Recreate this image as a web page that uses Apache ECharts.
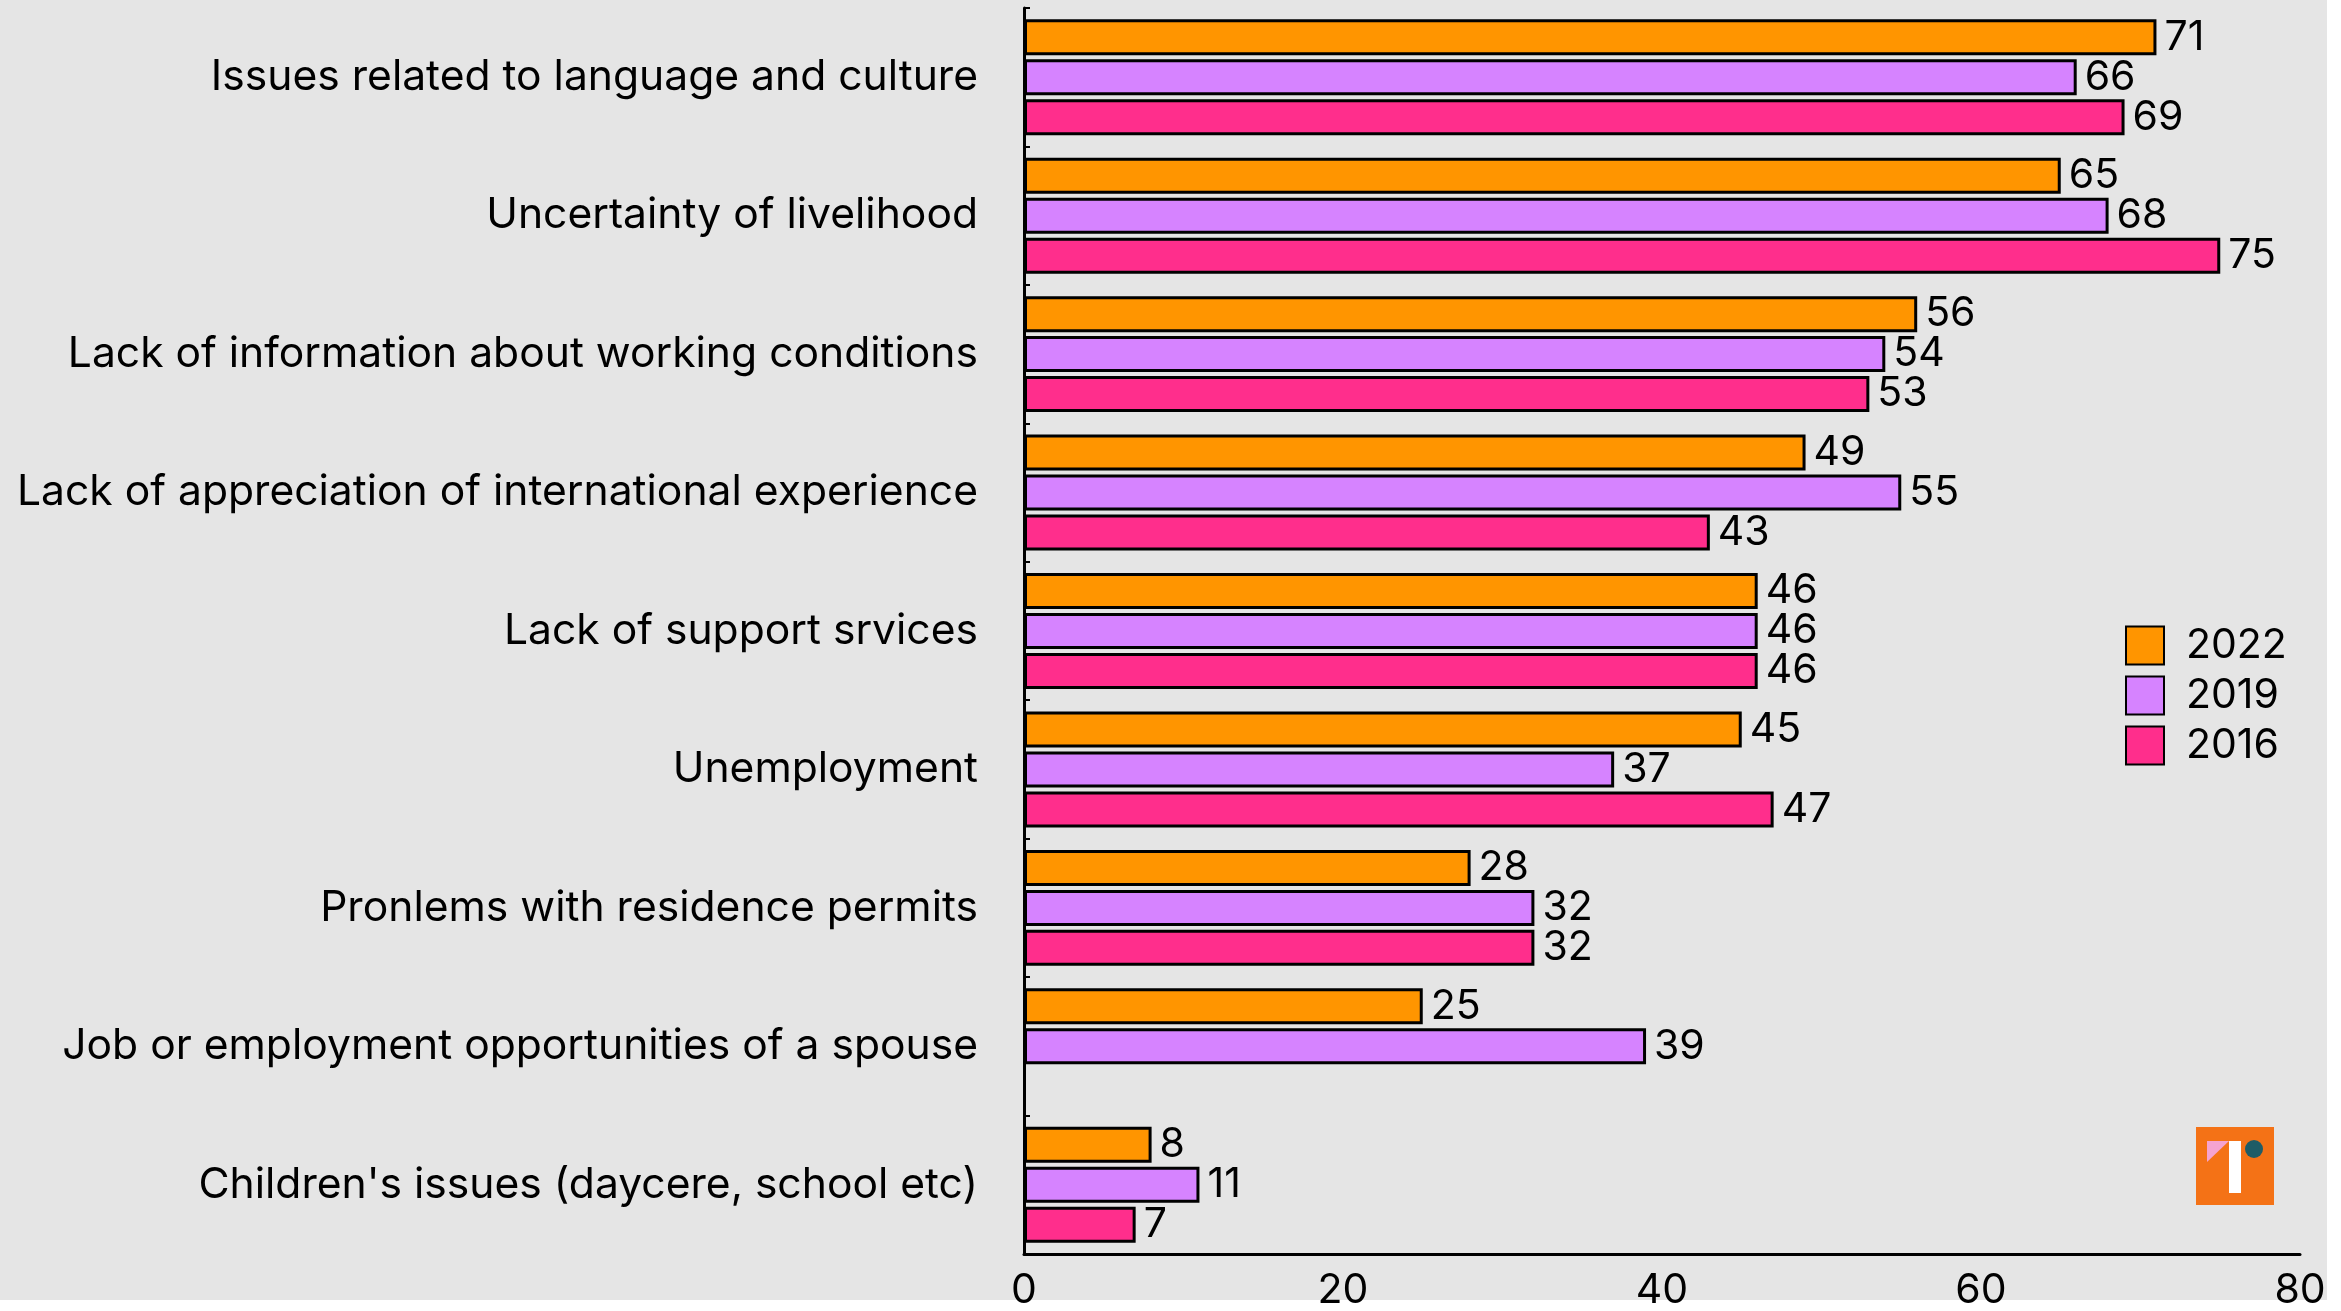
<!DOCTYPE html>
<html>
<head>
<meta charset="utf-8">
<script src="https://cdn.jsdelivr.net/npm/echarts@6/dist/echarts.min.js"></script>
<style>
  html, body { margin: 0; padding: 0; background: #fff; }
  #chart { width: 2341px; height: 1311px; }
</style>
</head>
<body>
<div id="chart"></div>
<script>
// data
const categories = [
  "Issues related to language and culture",
  "Uncertainty of livelihood",
  "Lack of information about working conditions",
  "Lack of appreciation of international experience",
  "Lack of support srvices",
  "Unemployment",
  "Pronlems with residence permits",
  "Job or employment opportunities of a spouse",
  "Children's issues (daycere, school etc)"
];
const years = ["2022", "2019", "2016"];
const values2022 = [71, 65, 56, 49, 46, 45, 28, 25, 8];
const values2019 = [66, 68, 54, 55, 46, 37, 32, 39, 11];
const values2016 = [69, 75, 53, 43, 46, 47, 32, null, 7];
const xTicks = [0, 20, 40, 60, 80];

const colors = ["#ff9500", "#d683ff", "#ff2e8c"];
const font = "Inter";
const fs = 41;

function makeSeries(name, data, color) {
  return {
    name: name,
    type: "bar",
    data: data,
    barWidth: 36,
    barGap: "11%",
    itemStyle: { color: color, borderColor: "#000", borderWidth: 3 },
    label: {
      show: true,
      position: "right",
      distance: 8,
      color: "#000",
      fontFamily: font,
      fontSize: fs
    }
  };
}

const chart = echarts.init(document.getElementById("chart"));
chart.setOption({
  backgroundColor: "#e5e5e5",
  animation: false,
  textStyle: { fontFamily: font },
  grid: { left: 1024, right: 41, top: 8, bottom: 51 },
  legend: {
    data: years,
    orient: "vertical",
    left: 2120,
    top: 620,
    icon: "rect",
    itemWidth: 38,
    itemHeight: 38,
    itemGap: 9,
    textStyle: { fontFamily: font, fontSize: fs, color: "#000", padding: [0, 0, 0, 17] }
  },
  xAxis: {
    type: "value",
    min: xTicks[0],
    max: xTicks[xTicks.length - 1],
    interval: 20,
    axisLine: { show: true, lineStyle: { color: "#000", width: 3 } },
    axisTick: { show: false },
    splitLine: { show: false },
    axisLabel: { color: "#000", fontFamily: font, fontSize: fs, margin: 16 }
  },
  yAxis: {
    type: "category",
    data: categories,
    inverse: true,
    axisLine: { show: true, lineStyle: { color: "#000", width: 3 } },
    axisTick: { show: true, inside: true, length: 6, lineStyle: { color: "#000", width: 2 } },
    axisLabel: { color: "#000", fontFamily: font, fontSize: 42.6, margin: 46 }
  },
  series: [
    makeSeries(years[0], values2022, colors[0]),
    makeSeries(years[1], values2019, colors[1]),
    makeSeries(years[2], values2016, colors[2])
  ],
  graphic: [
    { type: "rect", z: -10, shape: { x: 0, y: 1300, width: 2341, height: 11 }, style: { fill: "#fff" } },
    { type: "rect", z: -10, shape: { x: 2327, y: 0, width: 14, height: 1311 }, style: { fill: "#fff" } },
    {
      type: "group", left: 2196, top: 1127,
      children: [
        { type: "rect", shape: { x: 0, y: 0, width: 78, height: 78 }, style: { fill: "#f47216" } },
        { type: "polygon", shape: { points: [[11, 14], [33, 14], [11, 35]] }, style: { fill: "#f5a3d0" } },
        { type: "rect", shape: { x: 33, y: 14, width: 12, height: 52 }, style: { fill: "#fff" } },
        { type: "circle", shape: { cx: 58, cy: 22, r: 9 }, style: { fill: "#1f5c66" } }
      ]
    }
  ]
});
</script>
</body>
</html>
